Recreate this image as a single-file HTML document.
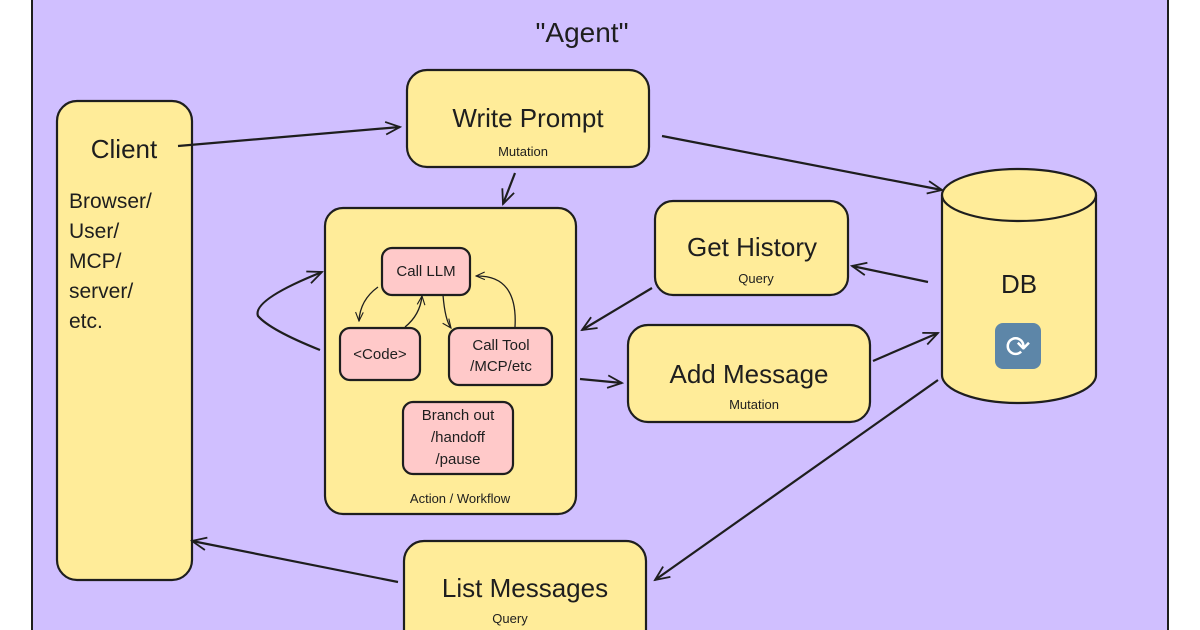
<!DOCTYPE html>
<html><head><meta charset="utf-8"><style>
html,body{margin:0;padding:0;width:1200px;height:630px;overflow:hidden;background:#fff}
svg{display:block}
text{font-family:"Comic Sans MS","Liberation Sans",sans-serif;fill:#1e1e1e;text-anchor:middle}
</style></head><body>
<svg width="1200" height="630" viewBox="0 0 1200 630">
<defs>
<marker id="a" viewBox="0 0 20 20" refX="18" refY="10" markerWidth="18" markerHeight="18" orient="auto" markerUnits="userSpaceOnUse">
<path d="M2 3 L18 10 L2 17" fill="none" stroke="#1e1e1e" stroke-width="2"/></marker>
<marker id="s" viewBox="0 0 20 20" refX="18" refY="10" markerWidth="11" markerHeight="11" orient="auto" markerUnits="userSpaceOnUse">
<path d="M2 3 L18 10 L2 17" fill="none" stroke="#1e1e1e" stroke-width="2"/></marker>
</defs>
<rect x="32" y="-5" width="1136" height="640" fill="#d0bfff" stroke="#1e1e1e" stroke-width="2"/>
<text x="582" y="42" font-size="28">"Agent"</text>

<g stroke="#1e1e1e" stroke-width="2.2">
<rect x="57" y="101" width="135" height="479" rx="20" fill="#ffec99"/>
<rect x="407" y="70" width="242" height="97" rx="20" fill="#ffec99"/>
<rect x="325" y="208" width="251" height="306" rx="18" fill="#ffec99"/>
<rect x="655" y="201" width="193" height="94" rx="18" fill="#ffec99"/>
<rect x="628" y="325" width="242" height="97" rx="20" fill="#ffec99"/>
<rect x="404" y="541" width="242" height="110" rx="20" fill="#ffec99"/>
<path d="M942 195 L942 375 A77 28 0 0 0 1096 375 L1096 195" fill="#ffec99"/>
<ellipse cx="1019" cy="195" rx="77" ry="26" fill="#ffec99"/>
<rect x="382" y="248" width="88" height="47" rx="10" fill="#ffc9c9"/>
<rect x="340" y="328" width="80" height="52" rx="10" fill="#ffc9c9"/>
<rect x="449" y="328" width="103" height="57" rx="10" fill="#ffc9c9"/>
<rect x="403" y="402" width="110" height="72" rx="10" fill="#ffc9c9"/>
</g>

<g font-size="26">
<text x="124" y="158">Client</text>
<text x="528" y="127">Write Prompt</text>
<text x="752" y="256">Get History</text>
<text x="749" y="383">Add Message</text>
<text x="525" y="597">List Messages</text>
<text x="1019" y="293">DB</text>
</g>
<g font-size="21">
<text x="69" y="208" style="text-anchor:start">Browser/</text>
<text x="69" y="238" style="text-anchor:start">User/</text>
<text x="69" y="268" style="text-anchor:start">MCP/</text>
<text x="69" y="298" style="text-anchor:start">server/</text>
<text x="69" y="328" style="text-anchor:start">etc.</text>
</g>
<g font-size="13">
<text x="523" y="156">Mutation</text>
<text x="756" y="283">Query</text>
<text x="754" y="409">Mutation</text>
<text x="510" y="623">Query</text>
<text x="460" y="503">Action / Workflow</text>
</g>
<g font-size="15">
<text x="426" y="276">Call LLM</text>
<text x="380" y="359">&lt;Code&gt;</text>
<text x="501" y="350">Call Tool</text>
<text x="501" y="371">/MCP/etc</text>
<text x="458" y="420">Branch out</text>
<text x="458" y="442">/handoff</text>
<text x="458" y="464">/pause</text>
</g>
<rect x="995" y="323" width="46" height="46" rx="8" fill="#5d86a8"/>
<text x="1018" y="357" font-size="30" style="fill:#fff">⟳</text>

<g fill="none" stroke="#1e1e1e" stroke-width="2.2">
<path d="M178 146 L400 127" marker-end="url(#a)"/>
<path d="M515 173 L503 204" marker-end="url(#a)"/>
<path d="M662 136 L942 190" marker-end="url(#a)"/>
<path d="M928 282 L852 266" marker-end="url(#a)"/>
<path d="M652 288 L582 330" marker-end="url(#a)"/>
<path d="M580 379 L622 383" marker-end="url(#a)"/>
<path d="M873 361 L938 333" marker-end="url(#a)"/>
<path d="M938 380 L655 580" marker-end="url(#a)"/>
<path d="M398 582 L192 541" marker-end="url(#a)"/>
<path d="M320 350 Q270 330 258 316 Q252 300 322 272" marker-end="url(#a)"/>
</g>
<g fill="none" stroke="#1e1e1e" stroke-width="1.3">
<path d="M378 287 Q360 300 359 321" marker-end="url(#s)"/>
<path d="M405 327 Q420 315 422 296" marker-end="url(#s)"/>
<path d="M443 295 Q445 320 451 328" marker-end="url(#s)"/>
<path d="M515 327 Q518 275 476 276" marker-end="url(#s)"/>
</g>
</svg>
</body></html>
